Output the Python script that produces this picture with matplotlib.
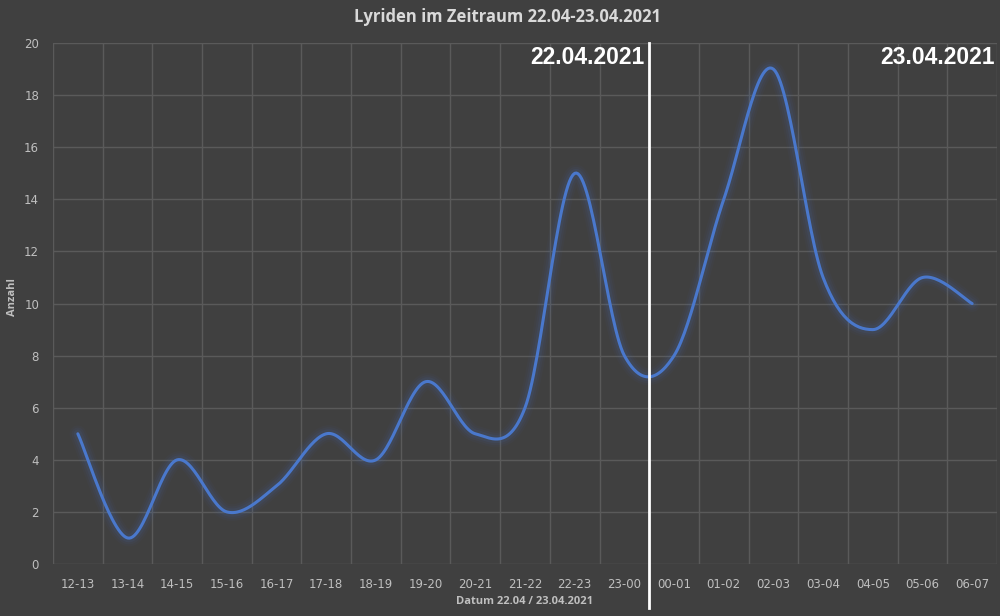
import matplotlib.pyplot as plt
import numpy as np

# Lyriden counts per hour, 22.04 - 23.04.2021
hours = ["12-13", "13-14", "14-15", "15-16", "16-17", "17-18", "18-19", "19-20",
         "20-21", "21-22", "22-23", "23-00", "00-01", "01-02", "02-03", "03-04",
         "04-05", "05-06", "06-07"]
counts = [5, 1, 4, 2, 3, 5, 4, 7, 5, 6, 15, 8, 8, 14, 19, 11, 9, 11, 10]
y_ticks = [0, 2, 4, 6, 8, 10, 12, 14, 16, 18, 20]


def smooth(xs, ys, n=30):
    # Excel-style smoothed line: cubic Bezier with Catmull-Rom control points
    xs = np.asarray(xs, float)
    ys = np.asarray(ys, float)
    px = np.concatenate([[xs[0]], xs, [xs[-1]]])
    py = np.concatenate([[ys[0]], ys, [ys[-1]]])
    t = np.linspace(0, 1, n)[:, None]
    outx, outy = [], []
    for i in range(1, len(px) - 2):
        p0 = np.array([px[i], py[i]])
        p3 = np.array([px[i + 1], py[i + 1]])
        c1 = p0 + (np.array([px[i + 1], py[i + 1]]) - np.array([px[i - 1], py[i - 1]])) / 6
        c2 = p3 - (np.array([px[i + 2], py[i + 2]]) - np.array([px[i], py[i]])) / 6
        b = ((1 - t) ** 3) * p0 + 3 * ((1 - t) ** 2) * t * c1 + 3 * (1 - t) * t ** 2 * c2 + t ** 3 * p3
        outx.append(b[:, 0])
        outy.append(b[:, 1])
    return np.concatenate(outx), np.concatenate(outy)


bg = "#404040"
fig = plt.figure(figsize=(10, 6.16), dpi=100, facecolor=bg)
ax = fig.add_axes([0.053, 0.0844, 0.944, 0.8456], facecolor=bg)

x = np.arange(len(hours))
sx, sy = smooth(x, counts)

# glow
for lw, a in [(12, 0.04), (9, 0.06), (6, 0.09)]:
    ax.plot(sx, sy, color="#4472c4", lw=lw, alpha=a, solid_capstyle="round", zorder=3)
ax.plot(sx, sy, color="#4a78cc", lw=2.2, solid_capstyle="round", zorder=4)

ax.set_xlim(-0.5, len(hours) - 0.5)
ax.set_ylim(0, 20)
ax.set_yticks(y_ticks)
ax.set_xticks(x)
ax.set_xticklabels(hours)
ax.set_xticks(np.arange(-0.5, len(hours), 1), minor=True)
ax.grid(True, which="minor", axis="x", color="#5a5a5a", lw=1)
ax.grid(True, which="major", axis="y", color="#5a5a5a", lw=1)
ax.set_axisbelow(True)
ax.tick_params(which="both", length=0, colors="#bfbfbf", labelsize=8.5)
ax.tick_params(axis="x", pad=10)
ax.tick_params(axis="y", pad=10)
for s in ax.spines.values():
    s.set_visible(False)

ax.axvline(11.5, ymin=-0.085, ymax=1.0, color="white", lw=2, clip_on=False, zorder=5)

ax.text(11.4, 19.9, "22.04.2021", color="white", fontsize=16.5, fontweight="bold",
        family="Liberation Sans", ha="right", va="top")
ax.text(18.45, 19.9, "23.04.2021", color="white", fontsize=16.5, fontweight="bold",
        family="Liberation Sans", ha="right", va="top")

ax.set_xlabel("Datum 22.04 / 23.04.2021", color="#bfbfbf", fontsize=8, fontweight="bold",
              family="Open Sans", labelpad=4)
ax.set_ylabel("Anzahl", color="#bfbfbf", fontsize=8, fontweight="bold",
              family="Open Sans")
ax.yaxis.set_label_coords(-0.037, 0.512)
fig.text(0.508, 0.972, "Lyriden im Zeitraum 22.04-23.04.2021", color="#d9d9d9",
         fontsize=12, fontweight="bold", family="Open Sans", ha="center", va="center")

fig.savefig("out.png", dpi=100, facecolor=bg)
